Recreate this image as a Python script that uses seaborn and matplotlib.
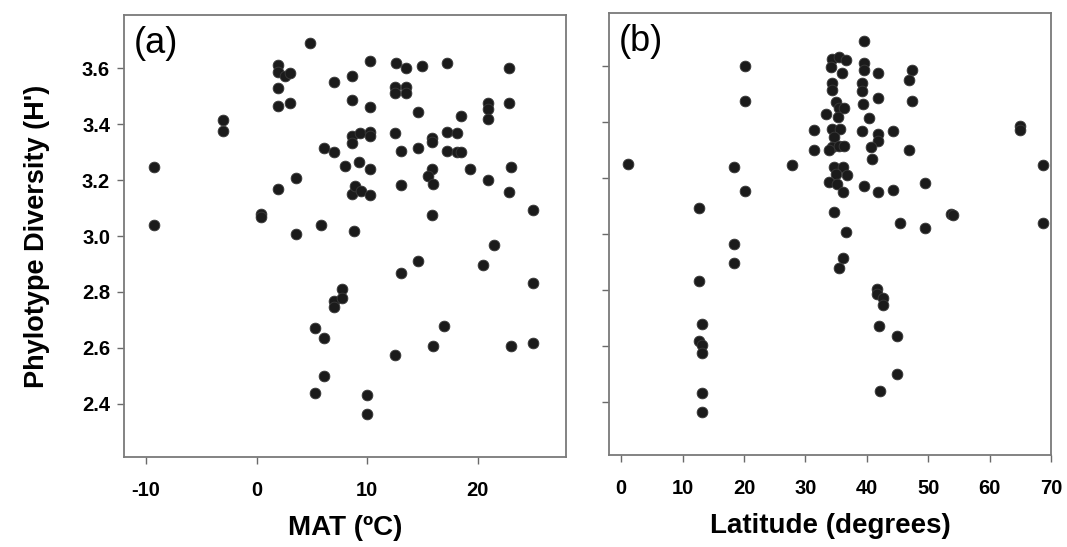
import matplotlib
matplotlib.use("Agg")
import matplotlib.pyplot as plt
import seaborn as sns
import pandas as pd

# Panel (a): mean annual temperature vs phylotype diversity
mat_x = [4.85, 1.96, 1.96, 2.56, 3.02, 1.96, 1.96, 3.02, 7.0, -3.02, -3.02, -9.3, -9.3,
         6.1, 7.0, 8.0, 3.59, 1.96, 0.4, 0.4, 5.8, 3.59, 7.75, 7.0, 7.75, 7.0, 5.28, 6.1,
         6.1, 5.28,
         8.6, 10.26, 8.6, 10.26, 12.62, 13.5, 15.0, 17.26, 22.8, 12.5, 13.5, 12.5, 13.5,
         14.64, 18.5, 20.98, 20.98, 20.98, 22.8, 8.6, 8.6, 9.4, 10.26, 10.26, 12.53,
         13.04, 14.64, 15.9, 15.9, 17.2, 18.17, 17.2, 18.17, 18.5, 9.3, 10.26, 8.6, 8.9,
         9.45, 10.26, 13.04, 15.9, 15.54, 16.0, 19.3, 23.0, 20.98, 22.8, 25.05, 15.9,
         8.84, 21.5, 14.64, 13.04, 20.5, 25.05, 17.0, 16.0, 12.53, 23.0, 25.05, 10.02,
         10.02]
mat_y = [3.69, 3.61, 3.587, 3.572, 3.584, 3.53, 3.463, 3.474, 3.549, 3.415, 3.376, 3.245,
         3.039, 3.313, 3.30, 3.249, 3.209, 3.168, 3.078, 3.068, 3.039, 3.007, 2.811, 2.769,
         2.78, 2.745, 2.671, 2.636, 2.501, 2.439,
         3.572, 3.626, 3.486, 3.462, 3.62, 3.599, 3.606, 3.62, 3.602, 3.531, 3.531, 3.511,
         3.511, 3.445, 3.43, 3.475, 3.454, 3.418, 3.475, 3.358, 3.334, 3.368, 3.37, 3.356,
         3.368, 3.305, 3.314, 3.352, 3.337, 3.37, 3.368, 3.305, 3.30, 3.30, 3.265, 3.239,
         3.15, 3.177, 3.162, 3.147, 3.182, 3.241, 3.215, 3.186, 3.241, 3.247, 3.2, 3.156,
         3.094, 3.075, 3.019, 2.968, 2.912, 2.868, 2.897, 2.832, 2.68, 2.606, 2.575, 2.608,
         2.618, 2.43, 2.362]

# Panel (b): latitude vs phylotype diversity
lat_x = [20.1, 20.1, 1.08, 18.4, 20.1, 12.6, 18.4, 18.4, 12.6, 13.15, 12.6, 13.15, 13.15,
         13.15, 13.15,
         39.5, 34.4, 35.5, 36.6, 34.1, 35.9, 39.5, 39.5, 41.9, 34.3, 34.3, 39.2, 39.2,
         41.9, 47.35, 46.9, 47.35, 35.0, 35.5, 36.2, 35.3, 33.3, 39.3, 40.4, 31.4, 31.4,
         34.4, 35.7, 34.7, 34.4, 35.5, 36.3, 33.9, 39.2, 41.9, 41.8, 40.6, 44.3, 46.9,
         40.9, 27.8, 34.6, 36.05, 35.0, 36.75, 33.9, 35.2, 36.05, 39.5, 41.9, 44.3, 49.5,
         34.7, 36.6, 45.4, 49.5, 36.05, 35.5,
         64.9, 64.9, 68.7, 53.7, 54.0, 68.7, 41.7, 41.7, 42.6, 42.6, 42.0, 44.9, 44.9,
         42.2]
lat_y = [3.601, 3.475, 3.249, 3.24, 3.154, 3.093, 2.966, 2.898, 2.833, 2.678, 2.617, 2.603,
         2.573, 2.43, 2.362,
         3.69, 3.624, 3.633, 3.621, 3.597, 3.574, 3.612, 3.586, 3.574, 3.538, 3.514, 3.538,
         3.51, 3.487, 3.586, 3.55, 3.475, 3.472, 3.449, 3.449, 3.419, 3.428, 3.463, 3.415,
         3.371, 3.30, 3.377, 3.374, 3.347, 3.312, 3.314, 3.314, 3.30, 3.369, 3.356, 3.333,
         3.312, 3.368, 3.302, 3.267, 3.246, 3.24, 3.24, 3.216, 3.21, 3.186, 3.18, 3.15,
         3.171, 3.149, 3.159, 3.181, 3.077, 3.008, 3.04, 3.02, 2.913, 2.877,
         3.385, 3.371, 3.246, 3.073, 3.067, 3.04, 2.805, 2.785, 2.77, 2.745, 2.671, 2.635,
         2.5, 2.438]

mat_ticks = [-10, 0, 10, 20]
lat_ticks = [0, 10, 20, 30, 40, 50, 60, 70]
y_ticks = [2.4, 2.6, 2.8, 3.0, 3.2, 3.4, 3.6]
y_ticklabels = ["2.4", "2.6", "2.8", "3.0", "3.2", "3.4", "3.6"]

sns.set_theme(style="white")
plt.rcParams["font.family"] = ["Liberation Sans", "DejaVu Sans"]
plt.rcParams["text.color"] = "black"
plt.rcParams["axes.labelcolor"] = "black"
plt.rcParams["xtick.color"] = "black"
plt.rcParams["ytick.color"] = "black"

df_a = pd.DataFrame({"MAT": mat_x, "H": mat_y})
df_b = pd.DataFrame({"Lat": lat_x, "H": lat_y})

fig = plt.figure(figsize=(10.67, 5.47), dpi=100)
fig.patch.set_facecolor("white")
W, H = 1067, 547
ax_a = fig.add_axes([124 / W, 1 - 457 / H, (566 - 124) / W, (457 - 15) / H])
ax_b = fig.add_axes([609 / W, 1 - 455 / H, (1051 - 609) / W, (455 - 13) / H])

dot = "#1b1b1b"
sns.scatterplot(data=df_a, x="MAT", y="H", ax=ax_a, s=60, color=dot,
                edgecolor="#3a3a3a", linewidth=0.6, zorder=3)
sns.scatterplot(data=df_b, x="Lat", y="H", ax=ax_b, s=60, color=dot,
                edgecolor="#3a3a3a", linewidth=0.6, zorder=3)

ax_a.set_xlim(-12, 28)
ax_b.set_xlim(-2, 70)
for ax in (ax_a, ax_b):
    ax.set_ylim(2.21, 3.79)
    ax.set_yticks(y_ticks)
    for sp in ax.spines.values():
        sp.set_color("#7a7a7a")
        sp.set_linewidth(1.3)
    ax.tick_params(axis="both", which="major", direction="out", length=5,
                   width=1.0, color="#6a6a6a", labelcolor="black", labelsize=14.5,
                   bottom=True, left=True, top=False, right=False)
    ax.tick_params(axis="x", pad=12)
    ax.tick_params(axis="y", pad=5)

ax_a.set_xticks(mat_ticks)
ax_a.set_xticklabels([str(t) for t in mat_ticks], fontweight="bold")
ax_a.set_yticklabels(y_ticklabels, fontweight="bold")
ax_b.set_xticks(lat_ticks)
ax_b.set_xticklabels([str(t) for t in lat_ticks], fontweight="bold")
ax_b.set_yticklabels([])

ax_a.set_xlabel("MAT (ºC)", fontsize=20, fontweight="bold", labelpad=11)
ax_b.set_xlabel("Latitude (degrees)", fontsize=20, fontweight="bold", labelpad=11)
ax_a.set_ylabel("Phylotype Diversity (H')", fontsize=19.5, fontweight="bold", labelpad=23)
ax_b.set_ylabel("")

ax_a.text(0.022, 0.975, "(a)", transform=ax_a.transAxes, fontsize=26,
          va="top", ha="left", color="black")
ax_b.text(0.022, 0.975, "(b)", transform=ax_b.transAxes, fontsize=26,
          va="top", ha="left", color="black")

fig.savefig("out.png", dpi=100, facecolor="white")
